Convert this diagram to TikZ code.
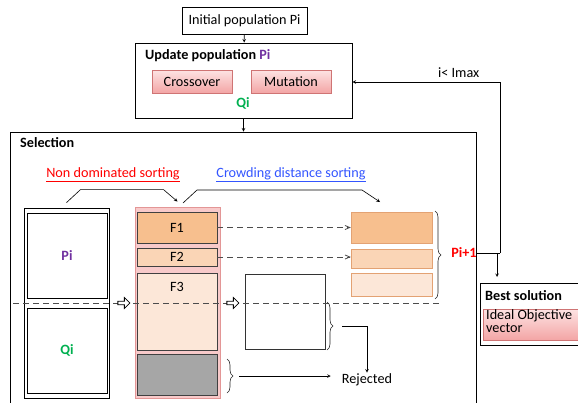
\documentclass[tikz,border=0pt]{standalone}
\usepackage{fontspec}
\setmainfont{Carlito}
\usepackage{xcolor}
\usepackage{tikz}
\usetikzlibrary{decorations.pathreplacing,shapes.arrows,arrows}
\definecolor{fone}{HTML}{F7BF8E}
\definecolor{ftwo}{HTML}{FAD5B6}
\definecolor{fthree}{HTML}{FCE7D8}
\definecolor{fedge}{HTML}{E3A273}
\definecolor{colpink}{HTML}{F8CACA}
\definecolor{coledge}{HTML}{E39696}
\definecolor{optop}{HTML}{FDE3E3}
\definecolor{opbot}{HTML}{F3A5A5}
\definecolor{opedge}{HTML}{CF7474}
\definecolor{mypurple}{HTML}{7030A0}
\definecolor{mygreen}{HTML}{00B050}
\definecolor{myred}{HTML}{FF0000}
\definecolor{myblue}{HTML}{3355FF}
\tikzstyle{arrow} = [semithick,->,>=stealth]
\tikzstyle{box} = [draw=black,line width=0.9pt,inner sep=0pt]
\tikzstyle{opbox} = [draw=opedge,top color=optop,bottom color=opbot,inner sep=0pt,minimum width=80pt,minimum height=23pt]
\tikzstyle{fbox} = [draw=black!75,line width=0.8pt,inner sep=0pt,minimum width=80pt]
\tikzstyle{rbox} = [draw=fedge,inner sep=0pt,minimum width=81pt]
\tikzstyle{dashline} = [dash pattern=on 6pt off 4pt,draw=black!70,line width=0.8pt]
\tikzstyle{hollow} = [single arrow,draw=black,fill=white,line width=0.8pt,minimum height=12pt,minimum width=11pt,single arrow head extend=2.5pt,inner sep=0.8pt]
\tikzstyle{curly} = [decorate,decoration={brace,amplitude=6pt},semithick,draw=black!85]

\begin{document}
\begin{tikzpicture}[x=1pt,y=-1pt,font=\fontsize{14.2}{16}\selectfont]
          \useasboundingbox (0,0) rectangle (578,402);
          \clip (0,0) rectangle (578,402);
          % top part
          \node[box,minimum width=125pt,minimum height=27pt] (init) at (244.5,21) {Initial population Pi};
          \node[box,minimum width=217pt,minimum height=75pt] (update) at (243.5,80.5) {};
          \node[anchor=west,inner sep=0pt] (uptitle) at (145,56) {\textbf{Update population \textcolor{mypurple}{Pi}}};
          \node[opbox] (cross) at (192,81.5) {Crossover};
          \node[opbox] (mut) at (291,81.5) {Mutation};
          \node[text=mygreen,inner sep=0pt] (qiup) at (243,103) {\textbf{Qi}};
          \draw[arrow] (init) -- (update);

          % selection
          \node[box,minimum width=466pt,minimum height=290pt] (sel) at (243,277) {};
          \node[anchor=west,inner sep=0pt] (seltitle) at (20,143) {\textbf{Selection}};
          \draw[arrow] (update.south) -- (update.south |- sel.north);
          \node[text=myred,inner sep=0pt] (nds) at (113,175) {\underline{Non dominated sorting}};
          \node[text=myblue,inner sep=0pt] (cds) at (291,175) {\underline{Crowding distance sorting}};

          % Pi and Qi
          \node[draw=black,line width=0.8pt,minimum width=85pt,minimum height=190pt,inner sep=0pt] (pq) at (66.5,303) {};
          \node[draw=black,line width=0.8pt,minimum width=80pt,minimum height=85pt,inner sep=0pt,text=mypurple] (pi) at (67,255.5) {\textbf{Pi}};
          \node[draw=black,line width=0.8pt,minimum width=80pt,minimum height=85pt,inner sep=0pt,text=mygreen] (qi) at (67,350.5) {\textbf{Qi}};

          % fronts
          \node[draw=coledge,fill=colpink,line width=0.9pt,minimum width=85pt,minimum height=191pt,inner sep=0pt] (col) at (177.5,302.5) {};
          \node[fbox,fill=fone,minimum height=31pt] (f1) at (177,227.5) {F1};
          \node[fbox,fill=ftwo,minimum height=18pt] (f2) at (177,257) {F2};
          \node[fbox,fill=fthree,minimum height=77pt,anchor=north] (f3) at (177,273) {};
          \node[inner sep=0pt] (f3lab) at (177,287) {F3};
          \node[fbox,fill=black!35,minimum height=41pt] (fr) at (177,374.5) {};

          % next population
          \node[rbox,fill=fone,minimum height=31pt] (r1) at (391.5,227.5) {};
          \node[rbox,fill=ftwo,minimum height=19pt] (r2) at (391.5,258.5) {};
          \node[rbox,fill=fthree,minimum height=23pt] (r3) at (391.5,284.5) {};
          \node[draw=black!80,line width=0.8pt,minimum width=80pt,minimum height=75pt,inner sep=0pt] (wb) at (285,311.5) {};
          \draw[dashline,->,>=angle 45] (f1.east) -- (r1.west);
          \draw[dashline,->,>=angle 45] (f2.east) -- (r2.west |- f2.east);

          % sorting brackets
          \draw[arrow] ([yshift=5pt]pq.north) -- ++(14,-13) -- ++(83,0) -- ([yshift=5pt]col.north);
          \coordinate (cdend) at (380,202);
          \draw[arrow] (183,203) -- ++(14,-13) -- ++(165,0) -- (cdend);

          % cut line
          \coordinate (cutl) at (13,303);
          \coordinate (cutr) at (440,303);
          \draw[dashline] (cutl) -- (cutr);
          \node[hollow] (ha) at (123,303) {};
          \node[hollow] (hb) at (232,303) {};

          % braces
          \draw[curly] (435,211) -- (435,299) coordinate[midway,xshift=7pt] (pitip);
          \node[text=myred,inner sep=0pt] (pinext) at (464,253) {\textbf{Pi+1}};
          \draw[curly] (327,302) -- (327,350) coordinate[midway,xshift=7pt] (wtip);
          \draw[curly] (227,359) -- (227,393) coordinate[midway,xshift=7pt] (gtip);
          \node[inner sep=1pt] (rej) at (367,380) {Rejected};
          \draw[arrow] ([xshift=8pt]wtip) -| (rej.north);
          \draw[arrow] ([xshift=5pt]gtip) -- ([xshift=-10pt]gtip -| rej.west);

          % best solution
          \node[box,minimum width=120pt,minimum height=62pt,anchor=north west] (best) at (480,283) {};
          \node[anchor=west,inner sep=0pt] (besttitle) at (485,296) {\textbf{Best solution}};
          \node[draw=opedge,top color=optop,bottom color=opbot,minimum width=117pt,minimum height=31pt,anchor=north west,inner sep=0pt] (ideal) at (483,309) {};
          \node[anchor=north west,align=left,inner sep=0pt] (idealtxt) at (486,309) {Ideal Objective\\[-3pt]vector};
          \coordinate (loopa) at (500,253);
          \coordinate (loopb) at (500,82);
          \draw[semithick] ([xshift=-1pt]pinext.east) -- (loopa);
          \draw[arrow] (loopa) -- (loopb) -- (update.east |- loopb) node[pos=0.28,above=1pt] {i< Imax};
          \draw[arrow] (497,253) -- ([yshift=6pt]497,283);
\end{tikzpicture}
\end{document}
